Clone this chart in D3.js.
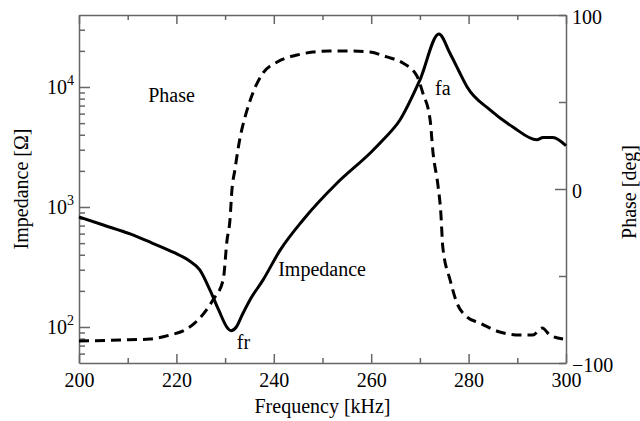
<!DOCTYPE html>
<html lang="en">
<head>
    <meta charset="UTF-8">
    <title>Impedance and Phase</title>
    <script src="https://d3js.org/d3.v7.min.js"></script>
    <style>
        body {
            margin: 0;
            background: #fff;
        }
        svg text {
            font-family: "Liberation Serif", "Times New Roman", serif;
            fill: #000;
        }
        .axis path, .axis line {
            stroke: #666;
            stroke-width: 1.5;
        }
        .axis text {
            font-size: 20px;
        }
    </style>
</head>
<body>
    <svg width="640" height="421"></svg>
    <script>
        // Impedance curve (solid), frequency in kHz, impedance in ohm
        const impFreq = [200, 205, 210.5, 215, 219.7, 222.5, 224.8, 226.9, 228.7, 230.5, 231.2, 232.3, 233.5, 235.1,
                         237.8, 241.3, 246, 253, 259.8, 262.5, 265.9, 270, 273.9, 276.2, 278, 279.7, 284.4, 289.1,
                         294, 295.3, 297.3, 300];
        const impValue = [826, 708, 596, 501, 414, 360, 299, 203, 138, 98, 93, 100, 126, 168,
                          247, 437, 780, 1585, 2818, 3650, 5310, 11430, 27660, 19000, 13600, 10000, 6450, 4640,
                          3630, 3800, 3800, 3240];

        // Phase curve (dashed), degrees
        const phaseFreq = [200, 208.4, 214.6, 218.7, 221.8, 223.8, 227.5, 229.6, 230.4, 231.0, 231.4, 232.0,
                           233.1, 234.1, 235.7, 237.8, 240.7, 244.8, 248.0, 251.5, 256.3, 259.8, 263.2, 266.5,
                           269.4, 270.6, 272.1, 272.7, 273.7, 274.3, 274.7, 276.2, 277.6, 279.7, 282.3, 286.4,
                           290.6, 293.2, 295.1, 296.7, 299.4];
        const phaseValue = [-87.4, -86.8, -86.2, -83.9, -81.0, -77.0, -63.8, -52.3, -29.3, -17.8, -0.6, 10.9,
                            29.9, 41.4, 55.2, 66.7, 73.0, 77.0, 78.7, 79.3, 79.3, 78.7, 75.9, 72.4,
                            64.9, 55.2, 39.7, 20.7, 2.3, -13.8, -33.3, -52.3, -65.5, -73.6, -77.0, -82.2,
                            -83.9, -83.9, -79.9, -83.9, -86.2];

        // Axis ticks
        const freqTicks = d3.range(200, 301, 10);
        const decadeTicks = [100, 1000, 10000];
        const phaseTicks = [-100, -50, 0, 50, 100];
        const phaseLabels = [-100, 0, 100];

        // Text annotations, placed in impedance coordinates
        const notes = [
            {text: "Phase", f: 214.2, z: 7500},
            {text: "Impedance", f: 240.9, z: 266},
            {text: "fr", f: 232.4, z: 65.6},
            {text: "fa", f: 273.1, z: 8570}
        ];

        const margin = {top: 15, right: 74, bottom: 58, left: 79},
              width = 640 - margin.left - margin.right,
              height = 421 - margin.top - margin.bottom;

        const svg = d3.select("svg")
                      .append("g")
                      .attr("transform", `translate(${margin.left},${margin.top})`);

        const x = d3.scaleLinear().domain([200, 300]).range([0, width]);
        const y = d3.scaleLog().domain([Math.pow(10, 1.7), Math.pow(10, 4.6)]).range([height, 0]);
        const yp = d3.scaleLinear().domain([-100, 100]).range([height, 0]);

        // minor log ticks 2..9 per decade inside the domain
        const logTicks = [];
        [10, 100, 1000, 10000].forEach(dec => {
            for (let m = 1; m < 10; m++) {
                const v = dec * m;
                if (v >= y.domain()[0] && v <= y.domain()[1]) logTicks.push(v);
            }
        });

        // bottom axis
        const xAxis = svg.append("g")
           .attr("class", "axis")
           .attr("transform", `translate(0,${height})`)
           .call(d3.axisBottom(x).tickValues(freqTicks)
                 .tickSizeInner(-9).tickSizeOuter(0).tickPadding(10)
                 .tickFormat(d => d % 20 === 0 ? d : ""));
        xAxis.selectAll(".tick line").attr("y2", d => d % 20 === 0 ? -9 : -5);
        xAxis.selectAll(".tick text").attr("y", 10);

        // top axis
        const xTop = svg.append("g")
           .attr("class", "axis")
           .call(d3.axisTop(x).tickValues(freqTicks).tickSizeInner(-9).tickSizeOuter(0).tickFormat(""));
        xTop.selectAll(".tick line").attr("y2", d => d % 20 === 0 ? 9 : 5);

        // left axis (log)
        const yAxis = svg.append("g")
           .attr("class", "axis")
           .call(d3.axisLeft(y).tickValues(logTicks).tickSizeInner(-11).tickSizeOuter(0).tickFormat(""));
        yAxis.selectAll(".tick line").attr("x2", d => decadeTicks.includes(d) ? 11 : 6);

        decadeTicks.forEach(v => {
            const t = svg.append("text")
               .attr("x", -5)
               .attr("y", y(v) + 7)
               .style("text-anchor", "end")
               .style("font-size", "20px");
            t.append("tspan").text("10");
            t.append("tspan")
             .attr("dy", -9)
             .style("font-size", "14px")
             .text(Math.round(Math.log10(v)));
        });

        // right axis (phase)
        const yRight = svg.append("g")
           .attr("class", "axis")
           .attr("transform", `translate(${width},0)`)
           .call(d3.axisRight(yp).tickValues(phaseTicks)
                 .tickSizeInner(-11).tickSizeOuter(0).tickPadding(6)
                 .tickFormat(d => phaseLabels.includes(d) ? d3.format("d")(d) : ""));
        yRight.selectAll(".tick line").attr("x2", d => d === 0 ? -11 : -7);
        yRight.selectAll(".tick text").attr("x", 6).attr("dy", "0.4em");

        // axis labels
        svg.append("text")
           .attr("transform", "rotate(-90)")
           .attr("x", -height / 2)
           .attr("y", 28 - margin.left)
           .style("text-anchor", "middle")
           .style("font-size", "20px")
           .text("Impedance [Ω]");

        svg.append("text")
           .attr("transform", "rotate(-90)")
           .attr("x", -height / 2 - 3)
           .attr("y", width + 70)
           .style("text-anchor", "middle")
           .style("font-size", "20px")
           .text("Phase [deg]");

        svg.append("text")
           .attr("x", width / 2)
           .attr("y", height + 50)
           .style("text-anchor", "middle")
           .style("font-size", "20px")
           .text("Frequency [kHz]");

        // curves
        const impLine = d3.line()
            .x((d, i) => x(impFreq[i]))
            .y(d => y(d))
            .curve(d3.curveMonotoneX);
        svg.append("path")
           .datum(impValue)
           .attr("fill", "none")
           .attr("stroke", "#000")
           .attr("stroke-width", 3)
           .attr("stroke-linejoin", "round")
           .attr("d", impLine);

        const phaseLine = d3.line()
            .x((d, i) => x(phaseFreq[i]))
            .y(d => yp(d))
            .curve(d3.curveMonotoneX);
        svg.append("path")
           .datum(phaseValue)
           .attr("fill", "none")
           .attr("stroke", "#000")
           .attr("stroke-width", 3)
           .attr("stroke-dasharray", "10,6")
           .attr("d", phaseLine);

        // annotations
        svg.selectAll(".note")
           .data(notes)
           .enter().append("text")
           .attr("class", "note")
           .attr("x", d => x(d.f))
           .attr("y", d => y(d.z))
           .style("font-size", "20px")
           .text(d => d.text);
    </script>
</body>
</html>
